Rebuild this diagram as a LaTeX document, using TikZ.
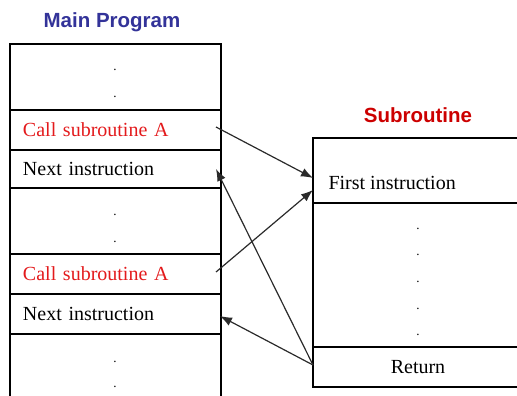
\documentclass[tikz,border=0pt]{standalone}
\usepackage{fontspec}
\setmainfont{Liberation Serif}
\newfontfamily\headfont{Liberation Sans}
\usetikzlibrary{arrows.meta,calc}
\definecolor{headblue}{HTML}{333399}
\definecolor{headred}{HTML}{CC0000}
\definecolor{callred}{HTML}{E31A1C}
\definecolor{linkgray}{HTML}{2A2A2A}
\begin{document}
\begin{tikzpicture}[x=1pt,y=-1pt,
  cell/.style={draw=black, line width=1.1pt, rectangle, outer sep=0pt,
    inner ysep=0pt, inner xsep=13pt, anchor=north west,
    text width=185pt, align=left, font=\fontsize{20}{24}\selectfont},
  subcell/.style={cell, text width=184pt},
  dotmark/.style={inner sep=0pt, font=\fontsize{13}{13}\selectfont},
  heading/.style={font=\headfont\bfseries\fontsize{20.5}{24}\selectfont},
  conn/.style={draw=linkgray, line width=1.2pt,
    -{Latex[length=12pt,width=9pt]}}]
\useasboundingbox (0,0) rectangle (517,396);
\clip (0,0) rectangle (517,396);

% headings
\node[heading, text=headblue] (mtitle) at (112,22) {Main Program};
\node[heading, text=headred] (stitle) at (418,115) {Subroutine};

% main program column
\node[cell, minimum height=66pt] (m1) at (10,44) {};
\node[cell, minimum height=40pt, text=callred] (call1) at (10,110) {Call subroutine A};
\node[cell, minimum height=38pt] (next1) at (10,150) {Next instruction};
\node[cell, minimum height=66pt] (m2) at (10,188) {};
\node[cell, minimum height=40pt, text=callred] (call2) at (10,254) {Call subroutine A};
\node[cell, minimum height=40pt] (next2) at (10,294) {Next instruction};
\node[cell, minimum height=90pt] (m3) at (10,334) {};

\node[dotmark] (d1) at (115,70) {.};
\node[dotmark] (d2) at (115,97) {.};
\node[dotmark] (d3) at (115,215) {.};
\node[dotmark] (d4) at (115,242) {.};
\node[dotmark] (d5) at (115,362) {.};
\node[dotmark] (d6) at (115,387) {.};

% subroutine column
\node[subcell, minimum height=65pt] (s1) at (313,138) {};
\node[subcell, minimum height=144pt] (s2) at (313,203) {};
\node[subcell, minimum height=40pt] (ret) at (313,347) {};
\node[anchor=west, font=\fontsize{20}{24}\selectfont] (first) at (325,183) {First instruction};
\node[font=\fontsize{20}{24}\selectfont] (rettext) at (418,367) {Return};

\node[dotmark] (e1) at (418,229) {.};
\node[dotmark] (e2) at (418,255) {.};
\node[dotmark] (e3) at (418,282) {.};
\node[dotmark] (e4) at (418,309) {.};
\node[dotmark] (e5) at (418,335) {.};

% calls and returns
\draw[conn] ($(call1.east)+(-5,-3)$) -- ($(s1.south west)+(0,-25)$);
\draw[conn] ($(call2.east)+(-5,-2)$) -- ($(s1.south west)+(0,-13)$);
\draw[conn] ($(ret.west)+(0,-2)$) -- ($(next1.east)+(-5,0)$);
\draw[conn] ($(ret.west)+(0,-2)$) -- ($(next2.east)+(-1,2)$);
\end{tikzpicture}
\end{document}
